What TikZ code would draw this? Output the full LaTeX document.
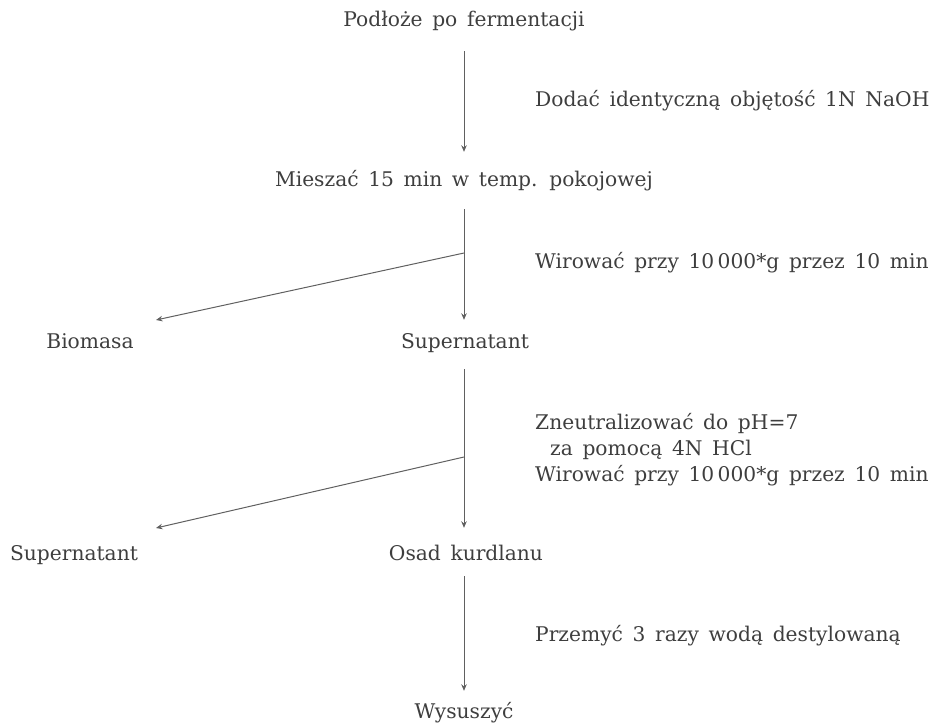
\documentclass[tikz,border=0pt]{standalone}
\usepackage{fontspec}
\setmainfont[WordSpace=1.5]{DejaVu Serif}
\usetikzlibrary{arrows.meta}
\definecolor{txt}{HTML}{3E3E3E}
\definecolor{ln}{HTML}{606060}
\tikzset{
  lbl/.style={inner sep=0pt, anchor=base, text=txt, font=\fontsize{20.3}{24}\selectfont, text height=15bp, text depth=5bp},
  rlbl/.style={lbl, anchor=base west},
  arr/.style={draw=ln, line width=1bp, -{Stealth[length=6.5bp,width=5.5bp]}},
}
\begin{document}
\begin{tikzpicture}[x=1bp,y=-1bp]
\useasboundingbox (0,0) rectangle (939,727);
% main column
\node[lbl] (P) at (464,27) {Podłoże po fermentacji};
\node[lbl] (M) at (464,187) {Mieszać 15 min w temp. pokojowej};
\node[lbl] (B) at (90,348) {Biomasa};
\node[lbl] (S1) at (465,348) {Supernatant};
\node[lbl] (S2) at (74,560) {Supernatant};
\node[lbl] (O) at (466,560) {Osad kurdlanu};
\node[lbl] (W) at (464,718) {Wysuszyć};
% step labels
\node[rlbl] (L1) at (535,107) {Dodać identyczną objętość 1N NaOH};
\node[rlbl] (L2) at (535,268) {Wirować przy 10\,000*g przez 10 min};
\node[rlbl] (L3a) at (535,429) {Zneutralizować do pH=7};
\node[rlbl] (L3b) at (550,455) {za pomocą 4N HCl};
\node[rlbl] (L3c) at (535,481) {Wirować przy 10\,000*g przez 10 min};
\node[rlbl] (L4) at (535,641) {Przemyć 3 razy wodą destylowaną};
% branch points and side tips
\coordinate (br1) at (464,253);
\coordinate (br2) at (464,457);
\coordinate (tB) at (156,320);
\coordinate (tS) at (156,528);
% connectors
\draw[arr, shorten <=19bp, shorten >=20bp] (P.south) -- (M.north);
\draw[arr, shorten <=17bp, shorten >=13bp] (M.south) -- (S1.north -| M.south);
\draw[arr] (br1) -- (tB);
\draw[arr, shorten <=16bp, shorten >=17bp] (S1.south -| M.south) -- (O.north -| M.south);
\draw[arr] (br2) -- (tS);
\draw[arr, shorten <=11bp, shorten >=12bp] (O.south -| M.south) -- (W.north);
\end{tikzpicture}
\end{document}
